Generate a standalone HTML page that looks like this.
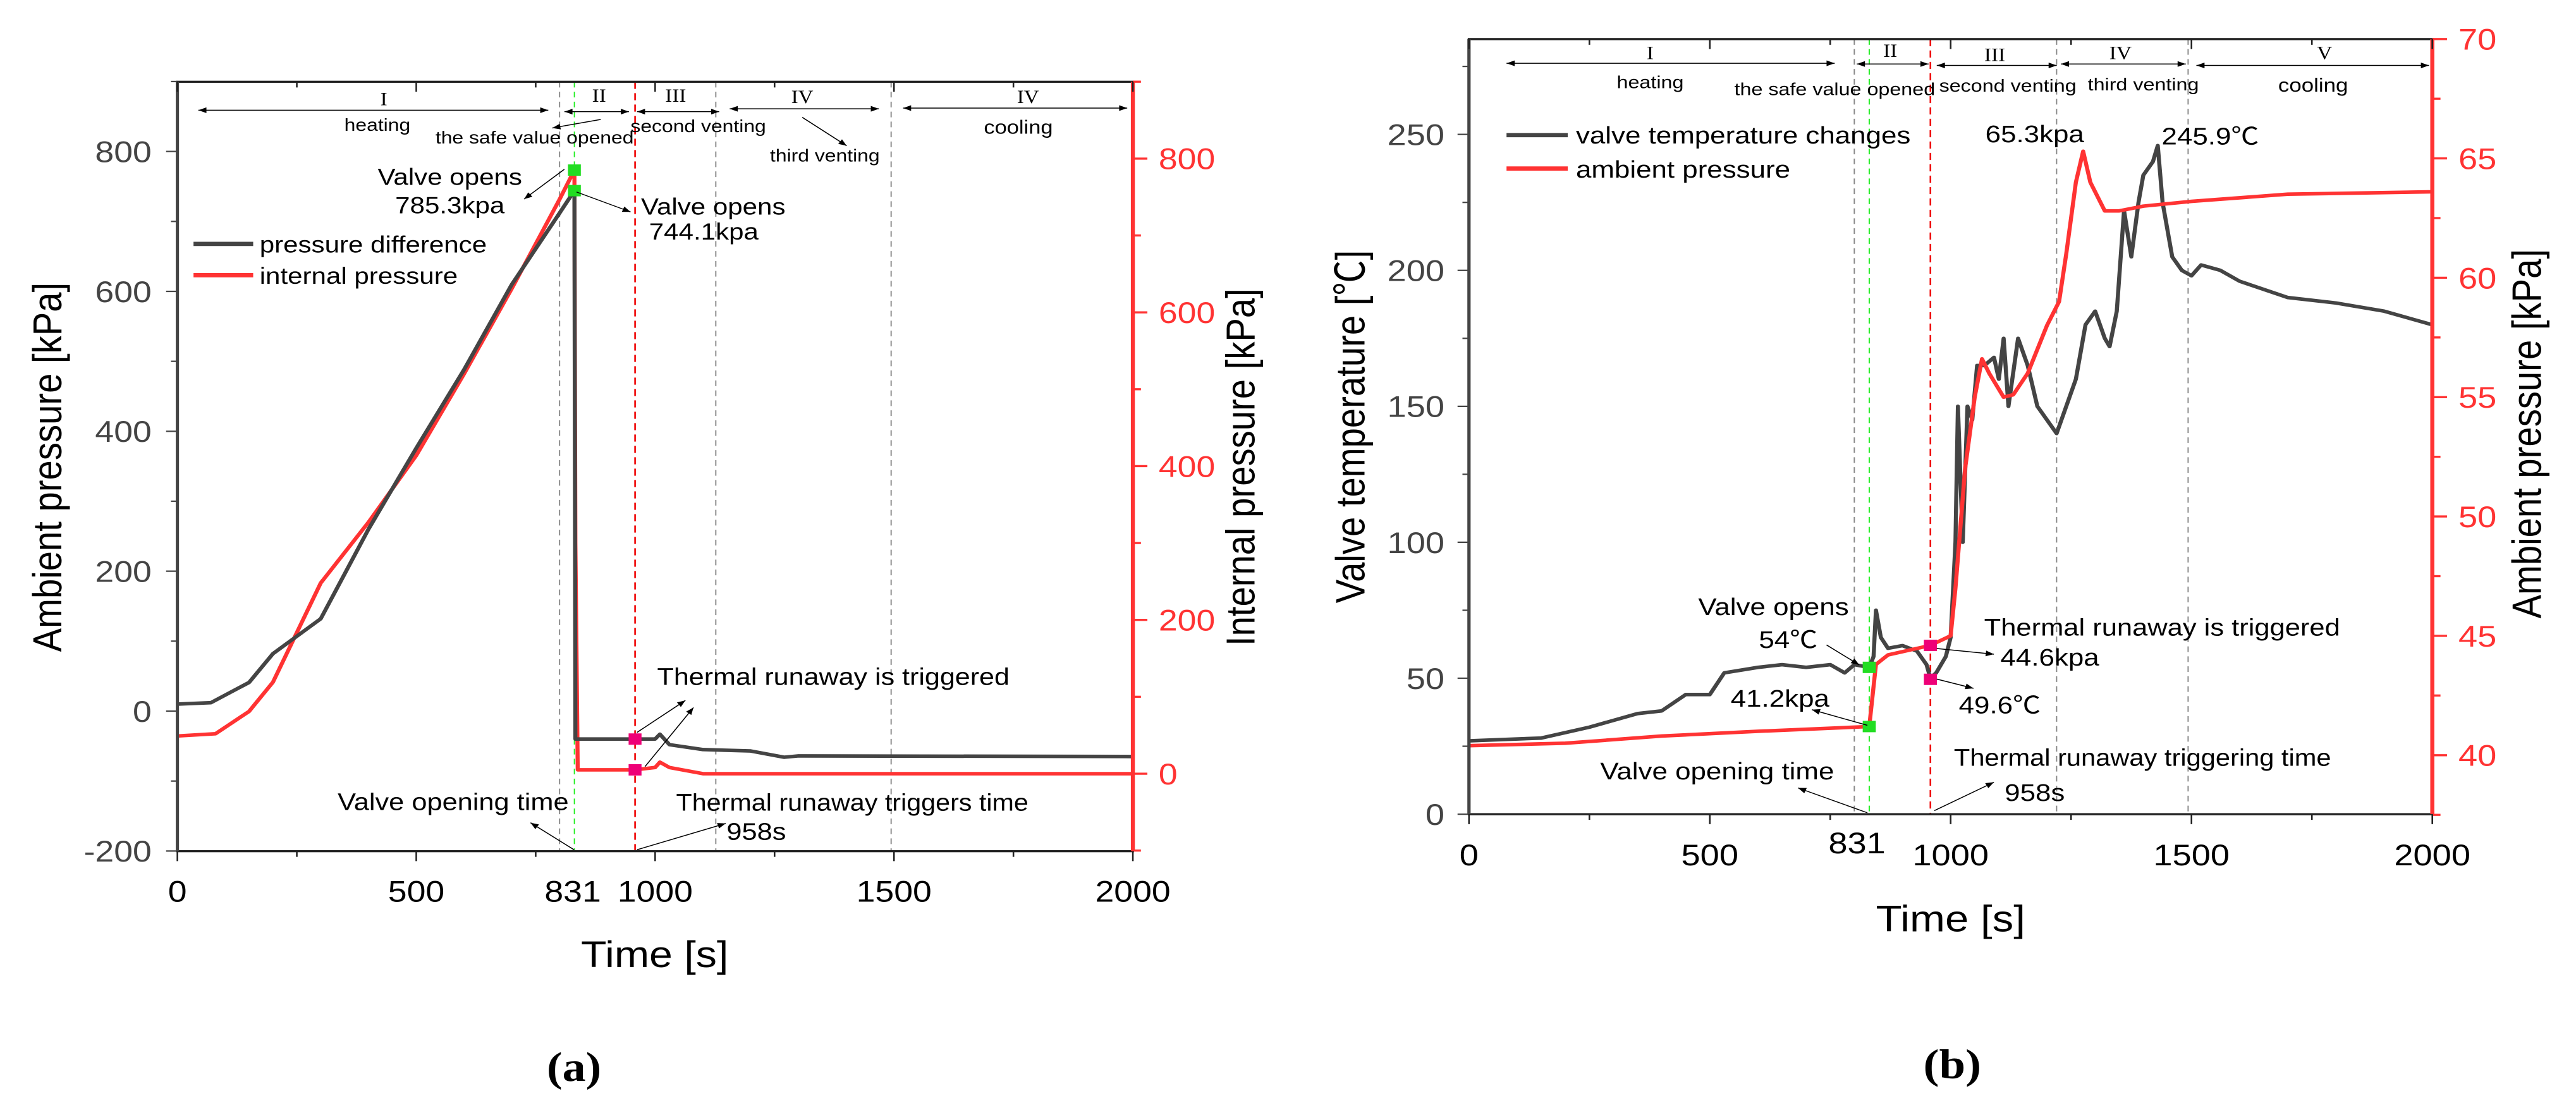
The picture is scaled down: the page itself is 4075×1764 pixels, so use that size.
<!DOCTYPE html>
<html><head><meta charset="utf-8"><style>
html,body{margin:0;padding:0;background:#fff;}
body{width:4075px;height:1764px;position:relative;overflow:hidden;font-family:"Liberation Sans","Noto Sans CJK SC",sans-serif;}
svg{position:absolute;top:0;}
</style></head><body>
<svg id="ca" style="left:0;font-family:'Liberation Sans','Noto Sans CJK SC',sans-serif" width="2000" height="1764" viewBox="0 0 1568 1568" preserveAspectRatio="none" xmlns="http://www.w3.org/2000/svg">
<defs><marker id="ah" viewBox="0 0 10 10" refX="10" refY="5" markerWidth="14" markerHeight="10" markerUnits="userSpaceOnUse" orient="auto-start-reverse"><path d="M0,1 L10,5 L0,9 z" fill="#000"/></marker></defs>
</svg>
<svg id="cb" style="left:2050px;font-family:'Liberation Sans','Noto Sans CJK SC',sans-serif" width="2025" height="1764" viewBox="0 0 1568 1568" preserveAspectRatio="none" xmlns="http://www.w3.org/2000/svg">
<defs><marker id="ah2" viewBox="0 0 10 10" refX="10" refY="5" markerWidth="14" markerHeight="10" markerUnits="userSpaceOnUse" orient="auto-start-reverse"><path d="M0,1 L10,5 L0,9 z" fill="#000"/></marker></defs>
</svg>
<script>
// ---- Chart (a) data ----
const aDiffT = [0,70,150,200,300,400,500,600,700,800,831,833,900,958,1000,1010,1030,1100,1200,1270,1300,2000];
const aDiffV = [10,12,41,82,132,260,376,488,610,712,744,-40,-40,-40,-40,-33,-48,-55,-57,-66,-64,-65];
const aIntT = [0,80,150,200,300,400,500,600,700,800,831,833,838,900,958,1000,1010,1030,1100,2000];
const aIntV = [49,52,81,119,248,327,414,520,631,747,785,300,5,5,5,8,15,8,0,0];
const aLeftTicks = [-200,0,200,400,600,800];
const aRightTicks = [0,200,400,600,800];
const aXTicks = [0,500,831,1000,1500,2000];
const aVlinesGray = [800,1127,1494];
// ---- Chart (b) data ----
const bTempT = [0,150,250,350,400,450,500,530,600,650,700,750,780,800,831,840,845,855,870,900,930,950,958,970,990,1000,1010,1015,1025,1035,1045,1055,1070,1090,1100,1110,1120,1140,1160,1180,1200,1220,1240,1260,1280,1300,1320,1330,1345,1360,1375,1390,1400,1420,1430,1440,1460,1480,1500,1520,1560,1600,1700,1800,1900,2000];
const bTempV = [27,28,32,37,38,44,44,52,54,55,54,55,52,55,54,58,75,65,61,62,60,55,50,52,58,65,100,150,100,150,145,165,165,168,160,175,150,175,165,150,145,140,150,160,180,185,175,172,185,222,205,225,235,240,245.9,225,205,200,198,202,200,196,190,188,185,180];
const bPresT = [0,200,400,600,831,845,870,958,1000,1010,1030,1050,1065,1080,1110,1130,1160,1200,1225,1240,1260,1275,1290,1320,1350,1400,1450,1500,1700,2000];
const bPresV = [40.4,40.5,40.8,41.0,41.2,43.8,44.2,44.6,45,47,52,55,56.6,56,55,55.1,56,58,59,61,64,65.3,64,62.8,62.8,63,63.1,63.2,63.5,63.6];
const bLeftTicks = [0,50,100,150,200,250];
const bRightTicks = [40,45,50,55,60,65,70];
const bXTicks = [0,500,831,1000,1500,2000];
const bVlinesGray = [800,1220,1493];

const NS='http://www.w3.org/2000/svg';
function mk(svg,tag,attrs,txt){const e=document.createElementNS(NS,tag);for(const k in attrs)e.setAttribute(k,attrs[k]);if(txt!==undefined)e.textContent=txt;svg.appendChild(e);return e;}
function path(svg,T,V,fx,fy,color,w){let d='';for(let i=0;i<T.length;i++)d+=(i?'L':'M')+fx(T[i]).toFixed(1)+','+fy(V[i]).toFixed(1);return mk(svg,'path',{d:d,fill:'none',stroke:color,'stroke-width':w,'stroke-linejoin':'round'});}

// ===== Chart A =====
const A=document.getElementById('ca');
const xa=t=>220+t*0.5925, yaL=v=>1000-v*0.98375, yaR=v=>1088-v*1.08125;
const aL=220,aR=1405,aT=115,aB=1197;
aVlinesGray.forEach(t=>{const e=mk(A,'line',{x1:xa(t),x2:xa(t),y1:aT,y2:aB,stroke:'#888','stroke-width':1.5,'stroke-dasharray':'8,6'});

});
{const e=mk(A,'line',{x1:xa(831),x2:xa(831),y1:aT,y2:aB,stroke:'#2e2','stroke-width':1.5,'stroke-dasharray':'8,6'});

}
{const e=mk(A,'line',{x1:xa(958),x2:xa(958),y1:aT,y2:aB,stroke:'#e00','stroke-width':2,'stroke-dasharray':'10,6'});

}
{const e=path(A,aIntT,aIntV,xa,yaR,'#f33',5);

}
{const e=path(A,aDiffT,aDiffV,xa,yaL,'#444',5);

}
mk(A,'rect',{x:aL,y:aT,width:aR-aL,height:aB-aT,fill:'none',stroke:'#222','stroke-width':3});
mk(A,'line',{x1:aL,x2:aL,y1:aT,y2:aB,stroke:'#444','stroke-width':4});
mk(A,'line',{x1:aR,x2:aR,y1:aT,y2:aB,stroke:'#f33','stroke-width':5});
for(let v=-200;v<=900;v+=100){const big=v%200===0;mk(A,'line',{x1:aL,x2:aL-(big?14:8),y1:yaL(v),y2:yaL(v),stroke:'#444','stroke-width':2});}
aLeftTicks.forEach(v=>{const e=mk(A,'text',{x:188,y:yaL(v)+15,'font-size':42,'text-anchor':'end',fill:'#444'},String(v));

});
for(let v=-100;v<=900;v+=100){const big=v%200===0;mk(A,'line',{x1:aR,x2:aR+(big?18:10),y1:yaR(v),y2:yaR(v),stroke:'#f33','stroke-width':3});}
aRightTicks.forEach(v=>{const e=mk(A,'text',{x:1437,y:yaR(v)+15,'font-size':42,fill:'#f33'},String(v));

});
for(let t=0;t<=2000;t+=250){const big=t%500===0;mk(A,'line',{x1:xa(t),x2:xa(t),y1:aB,y2:aB+(big?14:8),stroke:'#222','stroke-width':2});mk(A,'line',{x1:xa(t),x2:xa(t),y1:aT,y2:aT+(big?14:8),stroke:'#222','stroke-width':2});}
aXTicks.forEach(t=>{const e=mk(A,'text',{x:xa(t)+(t===831?-2:0),y:1268,'font-size':42,'text-anchor':'middle',fill:'#000'},String(t));

});
[[831,yaR(785)],[831,yaL(744)]].forEach(p=>{const e=mk(A,'rect',{x:xa(p[0])-8,y:p[1]-8,width:16,height:16,fill:'#2d2'});

});
[[958,yaL(-40)],[958,yaR(5)]].forEach(p=>{const e=mk(A,'rect',{x:xa(p[0])-8,y:p[1]-8,width:16,height:16,fill:'#e07'});

});
</script>
<script>
(function(){
const A=document.getElementById('ca');
function t(x,y,s,fs,anchor,name,extra){const e=document.createElementNS('http://www.w3.org/2000/svg','text');e.setAttribute('x',x);e.setAttribute('y',y);e.setAttribute('font-size',fs);e.setAttribute('text-anchor',anchor||'start');e.setAttribute('fill','#000');if(extra)for(const k in extra)e.setAttribute(k,extra[k]);e.textContent=s;


A.appendChild(e);return e;}
function ar(x1,y1,x2,y2,both){const e=document.createElementNS('http://www.w3.org/2000/svg','line');e.setAttribute('x1',x1);e.setAttribute('y1',y1);e.setAttribute('x2',x2);e.setAttribute('y2',y2);e.setAttribute('stroke','#000');e.setAttribute('stroke-width',1.3);e.setAttribute('marker-end','url(#ah)');if(both)e.setAttribute('marker-start','url(#ah)');


A.appendChild(e);}
const serif={style:'font-family:"Liberation Serif",serif'};
t(476,148,'I',26,'middle','phase-i-label',serif);ar(246,155,680,155,true);t(468,184,'heating',25,'middle','heating-label');
t(743,143,'II',26,'middle','phase-ii-label',serif);ar(700,157,780,157,true);t(663,202,'the safe value opened',25,'middle','safe-valve-label');ar(745,168,685,180);
t(838,143,'III',26,'middle','phase-iii-label',serif);ar(790,157,892,157,true);t(866,186,'second venting',25,'middle','second-venting-label');
t(995,145,'IV',26,'middle','phase-iv-label',serif);ar(905,153,1090,153,true);t(1023,227,'third venting',25,'middle','third-venting-label');ar(995,165,1050,205);
t(1275,145,'IV',26,'middle','phase-v-label',serif);ar(1120,152,1398,152,true);t(1263,188,'cooling',27,'middle','cooling-label');
t(558,260,'Valve opens',33,'middle','valve-opens-label');t(558,300,'785.3kpa',33,'middle','valve-785-label');ar(700,238,650,280);
t(795,302,'Valve opens',33,'start','valve-opens-label-2');t(805,337,'744.1kpa',33,'start','valve-744-label');ar(715,270,782,298);
const l1=document.createElementNS('http://www.w3.org/2000/svg','line');l1.setAttribute('x1',240);l1.setAttribute('x2',314);l1.setAttribute('y1',343);l1.setAttribute('y2',343);l1.setAttribute('stroke','#444');l1.setAttribute('stroke-width',6);


A.appendChild(l1);
const l2=document.createElementNS('http://www.w3.org/2000/svg','line');l2.setAttribute('x1',240);l2.setAttribute('x2',314);l2.setAttribute('y1',387);l2.setAttribute('y2',387);l2.setAttribute('stroke','#f33');l2.setAttribute('stroke-width',6);


A.appendChild(l2);
t(322,355,'pressure difference',33,'start','legend-difference');t(322,399,'internal pressure',33,'start','legend-internal');
t(815,963,'Thermal runaway is triggered',34,'start','runaway-label',{textLength:437,lengthAdjust:'spacingAndGlyphs'});ar(790,1030,850,985);ar(800,1078,860,995);
t(562,1139,'Valve opening time',34,'middle','valve-time-label');ar(712,1195,658,1157);
t(1057,1140,'Thermal runaway triggers time',34,'middle','runaway-time-label',{textLength:437,lengthAdjust:'spacingAndGlyphs'});t(938,1181,'958s',34,'middle','958s-label');ar(790,1195,900,1158);
t(812,1360,'Time [s]',52,'middle','x-axis-title');
t(0,0,'Ambient pressure [kPa]',50,'middle','left-axis-title',{transform:'translate(76,657) rotate(-90)'});
t(0,0,'Internal pressure [kPa]',50,'middle','right-axis-title',{transform:'translate(1556,657) rotate(-90)'});
t(712,1520,'(a)',58,'middle','panel-a-label',{style:'font-family:"Liberation Serif",serif;font-weight:bold'});
})();
</script>
<script>
(function(){
const NS='http://www.w3.org/2000/svg';
const B=document.getElementById('cb');
function mk(tag,attrs,txt){const e=document.createElementNS(NS,tag);for(const k in attrs)e.setAttribute(k,attrs[k]);if(txt!==undefined)e.textContent=txt;B.appendChild(e);return e;}
function path(T,V,fx,fy,color,w){let d='';for(let i=0;i<T.length;i++)d+=(i?'L':'M')+fx(T[i]).toFixed(1)+','+fy(V[i]).toFixed(1);return mk('path',{d:d,fill:'none',stroke:color,'stroke-width':w,'stroke-linejoin':'round'});}
const xb=t=>212+t*0.59, ybL=v=>1145-v*3.824, ybR=v=>1062-(v-40)*33.57;
const L=212,R=1392,T=55,Bt=1145;
bVlinesGray.forEach(t=>{const e=mk('line',{x1:xb(t),x2:xb(t),y1:T,y2:Bt,stroke:'#888','stroke-width':1.5,'stroke-dasharray':'8,6'});

});
{const e=mk('line',{x1:xb(831),x2:xb(831),y1:T,y2:Bt,stroke:'#2e2','stroke-width':1.5,'stroke-dasharray':'8,6'});

}
{const e=mk('line',{x1:xb(958),x2:xb(958),y1:T,y2:Bt,stroke:'#e00','stroke-width':2,'stroke-dasharray':'10,6'});

}
{const e=path(bTempT,bTempV,xb,ybL,'#444',5);

}
{const e=path(bPresT,bPresV,xb,ybR,'#f33',5);

}
mk('rect',{x:L,y:T,width:R-L,height:Bt-T,fill:'none',stroke:'#222','stroke-width':3});
mk('line',{x1:L,x2:L,y1:T,y2:Bt,stroke:'#444','stroke-width':4});
mk('line',{x1:R,x2:R,y1:T,y2:Bt,stroke:'#f33','stroke-width':5});
for(let v=0;v<=275;v+=25){const big=v%50===0;mk('line',{x1:L,x2:L-(big?14:8),y1:ybL(v),y2:ybL(v),stroke:'#444','stroke-width':2});}
bLeftTicks.forEach(v=>{const e=mk('text',{x:182,y:ybL(v)+15,'font-size':42,'text-anchor':'end',fill:'#444'},String(v));

});
for(let v=37.5;v<=70;v+=2.5){const big=v%5===0;mk('line',{x1:R,x2:R+(big?18:10),y1:ybR(v),y2:ybR(v),stroke:'#f33','stroke-width':3});}
bRightTicks.forEach(v=>{const e=mk('text',{x:1424,y:ybR(v)+15,'font-size':42,fill:'#f33'},String(v));

});
for(let t=0;t<=2000;t+=250){const big=t%500===0;mk('line',{x1:xb(t),x2:xb(t),y1:Bt,y2:Bt+(big?14:8),stroke:'#222','stroke-width':2});mk('line',{x1:xb(t),x2:xb(t),y1:T,y2:T+(big?14:8),stroke:'#222','stroke-width':2});}
bXTicks.forEach(t=>{const e=mk('text',{x:xb(t)+(t===831?-15:0),y:t===831?1200:1217,'font-size':42,'text-anchor':'middle',fill:'#000'},String(t));

});
[[831,ybL(54)],[831,ybR(41.2)]].forEach(p=>{const e=mk('rect',{x:xb(p[0])-8,y:p[1]-8,width:16,height:16,fill:'#2d2'});

});
[[958,ybR(44.6)],[958,ybL(49.6)]].forEach(p=>{const e=mk('rect',{x:xb(p[0])-8,y:p[1]-8,width:16,height:16,fill:'#e07'});

});
function t(x,y,s,fs,anchor,name,extra){const e=mk('text',{x:x,y:y,'font-size':fs,'text-anchor':anchor||'start',fill:'#000'},s);if(extra)for(const k in extra)e.setAttribute(k,extra[k]);

}
function ar(x1,y1,x2,y2,both){const e=mk('line',{x1:x1,y1:y1,x2:x2,y2:y2,stroke:'#000','stroke-width':1.3,'marker-end':'url(#ah2)'});if(both)e.setAttribute('marker-start','url(#ah2)');

}
const serif={style:'font-family:"Liberation Serif",serif'};
t(434,83,'I',26,'middle','phase-i-label',serif);ar(258,89,660,89,true);t(434,124,'heating',25,'middle','heating-label');
t(728,80,'II',26,'middle','phase-ii-label',serif);ar(687,90,775,90,true);t(660,134,'the safe value opened',25,'middle','safe-valve-label');
t(856,86,'III',26,'middle','phase-iii-label',serif);ar(785,92,932,92,true);t(872,129,'second venting',25,'middle','second-venting-label');
t(1010,83,'IV',26,'middle','phase-iv-label',serif);ar(937,90,1090,90,true);t(1038,127,'third venting',25,'middle','third-venting-label');
t(1260,83,'V',26,'middle','phase-v-label',serif);ar(1103,92,1388,92,true);t(1246,129,'cooling',27,'middle','cooling-label');
mk('line',{x1:258,x2:333,y1:190,y2:190,stroke:'#444','stroke-width':6});
mk('line',{x1:258,x2:333,y1:237,y2:237,stroke:'#f33','stroke-width':6});
t(343,202,'valve temperature changes',34,'start','legend-temperature');t(343,250,'ambient pressure',34,'start','legend-pressure');
t(905,200,'65.3kpa',34,'middle','peak-pressure-label');t(1120,203,'245.9℃',34,'middle','peak-temp-label');
t(585,865,'Valve opens',34,'middle','valve-opens-label');t(603,911,'54℃',34,'middle','valve-54-label');ar(650,907,690,935);
t(593,994,'41.2kpa',34,'middle','valve-41-label');ar(700,1020,632,998);
t(843,894,'Thermal runaway is triggered',34,'start','runaway-label',{textLength:436,lengthAdjust:'spacingAndGlyphs'});
t(863,936,'44.6kpa',34,'start','runaway-44-label');ar(785,912,855,920);
t(812,1003,'49.6℃',34,'start','runaway-49-label');ar(785,955,830,968);
t(516,1096,'Valve opening time',34,'middle','valve-time-label');ar(700,1143,615,1108);
t(1037,1077,'Thermal runaway triggering time',34,'middle','runaway-time-label',{textLength:462,lengthAdjust:'spacingAndGlyphs'});
t(905,1126,'958s',34,'middle','958s-label');ar(782,1140,855,1100);
t(802,1310,'Time [s]',52,'middle','x-axis-title');
t(0,0,'Valve temperature [℃]',50,'middle','left-axis-title',{transform:'translate(84,600) rotate(-90)'});
t(0,0,'Ambient pressure [kPa]',50,'middle','right-axis-title',{transform:'translate(1525,610) rotate(-90)'});
t(804,1516,'(b)',58,'middle','panel-b-label',{style:'font-family:"Liberation Serif",serif;font-weight:bold'});
})();
</script>
</body></html>
